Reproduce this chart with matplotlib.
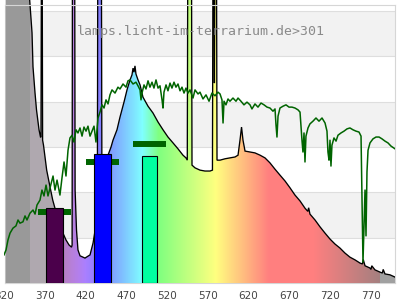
import numpy as np
import matplotlib
matplotlib.use("Agg")
import matplotlib.pyplot as plt
from matplotlib.patches import Polygon

# ---------------- data ----------------
spec_nm = [320, 350.7, 351.3, 354.4, 355.6, 358.1, 359.9, 363.0, 364.8, 365.4, 365.9, 366.9, 367.4,
           368.5, 372.4, 376.5, 379.8, 383.8, 388.7, 392.4, 396.1, 399.8, 402.9, 403.6, 404.0, 406.8,
           407.3, 409.0, 410.8, 413.3, 419.4, 425.6, 429.3, 432.9, 434.6, 435.1, 439.6, 440.2, 445.2,
           451.4, 453.8, 458.7, 462.4, 467.3, 471.0, 474.7, 477.1, 478.4, 479.6, 480.8, 482.0, 484.5,
           487.0, 490.6, 496.8, 502.9, 509.1, 515.2, 521.3, 527.5, 533.6, 539.7, 543.4, 545.0, 545.6,
           550.2, 550.8, 554.5, 560.6, 566.7, 572.9, 575.9, 576.5, 577.7, 578.3, 578.9, 580.9, 581.5,
           585.2, 591.3, 597.4, 603.6, 607.3, 609.7, 611.6, 613.4, 615.9, 622.0, 628.1, 634.3, 640.4,
           646.5, 652.7, 658.8, 665.0, 671.1, 677.2, 683.4, 689.5, 693.0, 694.0, 695.6, 701.8, 707.9,
           714.1, 720.2, 726.3, 732.5, 738.6, 744.7, 750.9, 757.0, 760.0, 761.0, 763.2, 769.3, 770.5,
           771.5, 775.4, 781.6, 784.5, 785.5, 787.7, 793.9, 800]
spec_val = [7.0, 7.0, 6.3, 5.52, 4.77, 4.19, 3.82, 3.38, 3.22, 3.22, 7.0, 7.0, 3.15,
            3.04, 2.49, 2.12, 1.83, 1.57, 1.28, 1.10, 0.95, 0.84, 0.79, 0.84, 7.0, 7.0,
            2.05, 1.17, 0.73, 0.60, 0.55, 0.62, 0.88, 1.28, 1.83, 7.0, 7.0, 2.27, 2.70,
            3.00, 3.15, 3.38, 3.66, 3.99, 4.26, 4.48, 4.59, 4.74, 4.65, 4.79, 4.61, 4.48,
            4.37, 4.10, 3.90, 3.75, 3.55, 3.38, 3.22, 3.09, 2.96, 2.82, 2.76, 2.71, 7.0,
            7.0, 2.60, 2.54, 2.49, 2.47, 2.47, 2.49, 7.0, 7.0, 4.41, 7.0, 7.0, 2.71,
            2.71, 2.74, 2.76, 2.78, 2.82, 3.15, 3.44, 3.15, 2.91, 2.89, 2.87, 2.82, 2.76,
            2.65, 2.51, 2.38, 2.25, 2.10, 1.94, 1.81, 1.65, 1.58, 1.66, 1.52, 1.39, 1.24,
            1.10, 0.97, 0.86, 0.77, 0.66, 0.57, 0.51, 0.44, 0.42, 0.52, 0.38, 0.33, 0.30,
            0.38, 0.29, 0.24, 0.22, 0.30, 0.20, 0.18, 0.13]

sun_nm = [320.0, 322.5, 324.9, 327.4, 331.0, 334.7, 337.2, 339.6, 343.3, 345.8, 348.2, 351.9, 355.6,
          358.1, 360.5, 364.2, 366.6, 369.1, 371.6, 374.0, 376.5, 380.2, 382.6, 385.1, 388.7, 391.2,
          393.7, 396.1, 398.6, 401.0, 403.5, 405.9, 408.4, 410.8, 413.3, 415.8, 418.2, 420.7, 423.1,
          425.6, 428.0, 430.5, 432.9, 435.4, 437.8, 440.3, 442.8, 445.2, 447.7, 450.1, 452.6, 456.3,
          459.9, 462.4, 466.1, 469.8, 472.2, 474.7, 478.4, 482.0, 484.5, 487.0, 488.2, 489.4, 491.9,
          494.3, 496.8, 499.2, 501.7, 504.1, 506.6, 509.1, 511.5, 514.0, 515.2, 516.4, 518.9, 521.3,
          523.8, 526.2, 528.7, 531.1, 533.6, 536.1, 538.5, 541.0, 543.4, 545.9, 548.3, 552.0, 554.5,
          558.2, 560.6, 564.3, 568.0, 571.7, 575.3, 579.0, 582.7, 585.2, 587.6, 588.9, 590.1, 592.5,
          595.0, 597.4, 601.1, 604.8, 607.3, 610.9, 614.6, 618.3, 622.0, 624.4, 628.1, 631.8, 635.5,
          639.2, 642.9, 646.5, 650.2, 652.7, 653.9, 655.1, 656.4, 658.8, 662.5, 666.2, 669.9, 673.5,
          677.2, 680.9, 683.4, 685.8, 687.0, 688.3, 689.5, 690.7, 693.2, 695.6, 699.3, 703.0, 706.7,
          710.4, 714.1, 716.5, 717.7, 719.0, 720.2, 721.4, 722.6, 725.1, 727.6, 730.0, 733.7, 737.4,
          741.1, 744.7, 748.4, 752.1, 755.8, 758.3, 759.5, 760.7, 761.9, 763.2, 764.4, 765.6, 766.9,
          769.3, 773.0, 776.7, 780.4, 784.0, 787.7, 791.4, 795.1, 800.0]
sun_val = [0.62, 0.73, 0.95, 1.10, 1.21, 1.26, 1.39, 1.32, 1.35, 1.48, 1.39, 1.54, 1.61,
           1.52, 1.72, 1.83, 2.05, 1.92, 2.16, 1.92, 2.10, 2.36, 2.05, 2.27, 1.94, 2.32,
           2.67, 2.36, 2.93, 3.20, 3.26, 3.11, 3.38, 3.31, 3.42, 3.24, 3.44, 3.35, 3.46,
           3.24, 3.35, 3.46, 3.11, 3.64, 3.77, 3.93, 3.86, 4.04, 3.95, 4.15, 4.26, 4.19,
           4.32, 4.28, 4.39, 4.32, 4.46, 4.48, 4.39, 4.43, 4.35, 4.26, 4.04, 4.19, 4.37,
           4.28, 4.46, 4.32, 4.43, 4.30, 4.48, 4.30, 4.35, 4.04, 3.86, 4.21, 4.37, 4.24,
           4.41, 4.30, 4.43, 4.32, 4.39, 4.24, 4.32, 4.19, 4.30, 4.19, 4.26, 4.08, 4.26,
           4.17, 4.21, 4.06, 4.15, 4.01, 4.19, 4.13, 4.21, 4.17, 4.04, 3.53, 4.01, 3.93,
           4.06, 4.01, 4.08, 4.01, 4.08, 4.01, 3.93, 3.99, 3.93, 3.84, 3.95, 3.88, 3.97,
           3.93, 3.88, 3.86, 3.79, 3.84, 3.49, 3.22, 3.68, 3.86, 3.90, 3.93, 3.88, 3.88,
           3.86, 3.82, 3.77, 3.15, 2.89, 3.31, 2.67, 3.24, 3.42, 3.51, 3.57, 3.64, 3.57,
           3.64, 3.53, 3.35, 2.89, 2.71, 3.15, 2.58, 3.04, 3.20, 3.13, 3.26, 3.31, 3.35,
           3.40, 3.42, 3.38, 3.35, 3.33, 3.24, 1.83, 0.46, 1.21, 2.05, 1.04, 2.45, 2.93,
           3.09, 3.18, 3.22, 3.22, 3.18, 3.13, 3.09, 3.02, 2.96]

bar_nm = [382.0, 441.0, 498.6]
bar_w = [20.8, 20.1, 19.2]
bar_h = [1.65, 2.85, 2.80]
bar_colors = ['#4b004b', '#0000ff', '#00ffa0']
mark_y = [1.56, 2.67, 3.07]

tick_vals = [320, 370, 420, 470, 520, 570, 620, 670, 720, 770]
tick_labels = [str(t) for t in tick_vals]
title = "lamps.licht-im-terrarium.de>301"

# ---------------- style helpers ----------------
def wl_color(w):
    if w < 352.5:
        return (0.60, 0.60, 0.60)
    if w < 383:
        return (0.69, 0.66, 0.69)
    if w > 781:
        return (0.63, 0.63, 0.63)
    if w < 440:
        r, g, b = (440 - w) / 60, 0, 1
    elif w < 490:
        r, g, b = 0, (w - 440) / 50, 1
    elif w < 510:
        r, g, b = 0, 1, (510 - w) / 20
    elif w < 580:
        r, g, b = (w - 510) / 70, 1, 0
    elif w < 645:
        r, g, b = 1, (645 - w) / 65, 0
    else:
        r, g, b = 1, 0, 0
    if w < 420:
        f = 0.3 + 0.7 * (w - 380) / 40
    elif w > 700:
        f = 0.3 + 0.7 * (780 - w) / 80
    else:
        f = 1.0
    return tuple(0.5 + 0.5 * min(max(c * f, 0), 1) for c in (r, g, b))

YTOP = 6.243
YFRAME = 6.13

fig = plt.figure(figsize=(4, 3), dpi=100)
ax = fig.add_axes([4 / 400, 17 / 300, 391 / 400, 283 / 300])
ax.set_xlim(320, 800)
ax.set_ylim(0, YTOP)
for s in ax.spines.values():
    s.set_visible(False)

# background bands and grid
for k in (1, 3, 5):
    ax.axhspan(k, k + 1, xmin=1.2 / 480, color='#f2f2f2', zorder=0, lw=0)
for k in range(1, 7):
    ax.axhline(k, xmin=1.2 / 480, color='#dedede', lw=0.8, zorder=0.5)

# rainbow fill under the spectrum
step = 0.5
wls = np.arange(320, 800 + step, step)
img = np.array([[wl_color(w) for w in wls]])
im = ax.imshow(img, extent=(320 - step / 2, 800 + step / 2, 0, YTOP), aspect='auto',
               interpolation='nearest', zorder=1, origin='lower')
poly_x = [322.0, 322.0] + list(spec_nm[1:]) + [800]
poly_y = [0, spec_val[0]] + list(spec_val[1:]) + [0]
clip = Polygon(np.column_stack([poly_x, poly_y]), closed=True, transform=ax.transData,
               facecolor='none', edgecolor='none')
ax.add_patch(clip)
im.set_clip_path(clip)

# spectrum outline
ax.plot(spec_nm[2:], spec_val[2:], color='black', lw=0.95, zorder=2, solid_joinstyle='miter')

# markers behind bars
for c, y in zip(bar_nm, mark_y):
    ax.plot([c - 20.5, c + 20.5], [y, y], color='#006400', lw=4.3, solid_capstyle='butt', zorder=3)

ax.bar(bar_nm, bar_h, width=bar_w, color=bar_colors, edgecolor='black', linewidth=0.8, zorder=4)

# sunlight line
ax.plot(sun_nm, sun_val, color='#006400', lw=1.1, zorder=5)

# frame
fc = '#d6d6d6'
ax.plot([321.2, 800], [YFRAME, YFRAME], color=fc, lw=0.8, zorder=6, clip_on=False)
ax.plot([321.2, 321.2], [0, YFRAME], color=fc, lw=0.8, zorder=0.6, clip_on=False)
ax.plot([800, 800], [0, YFRAME], color=fc, lw=0.8, zorder=0.6, clip_on=False)
ax.plot([321.2, 800], [0, 0], color=fc, lw=0.8, zorder=0.6, clip_on=False)

ax.set_xticks(tick_vals)
ax.set_xticklabels(tick_labels)
ax.set_yticks([])
ax.tick_params(axis='x', length=0, pad=6, labelsize=7.5, labelcolor='#444444')

fig.text(0.5025, 1 - 31 / 300, title, ha='center', va='center', family='DejaVu Sans Mono',
         fontsize=9.5, color='#8a8a8a')

fig.savefig('out.png', dpi=100)
